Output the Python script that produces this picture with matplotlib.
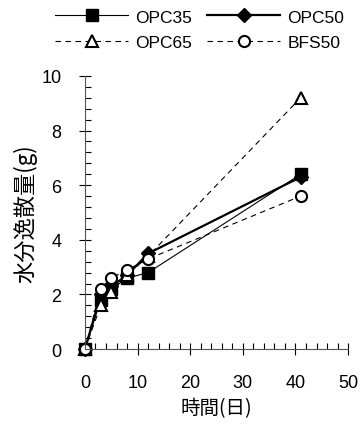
import matplotlib.pyplot as plt
from matplotlib.ticker import MultipleLocator

plt.rcParams['font.family'] = ['Liberation Sans', 'Noto Sans CJK JP']

# 経過日数
days = [0, 3, 5, 8, 12, 41]

opc35 = [0, 1.8, 2.2, 2.6, 2.8, 6.4]
opc50 = [0, 2.0, 2.3, 2.7, 3.5, 6.3]
opc65 = [0, 1.6, 2.1, 2.7, 3.4, 9.2]
bfs50 = [0, 2.2, 2.6, 2.9, 3.3, 5.6]

fig = plt.figure(figsize=(3.6, 4.27), dpi=100)
ax = fig.add_axes([0.236, 0.18, 0.731, 0.64])

l1, = ax.plot(days, opc35, '-', color='black', lw=0.8, marker='s', ms=8,
              mfc='black', label='OPC35')
l2, = ax.plot(days, opc50, '-', color='black', lw=1.6, marker='D', ms=7,
              mfc='black', label='OPC50')
l3, = ax.plot(days, opc65, '--', color='black', lw=0.8, dashes=(5, 4), marker='^',
              ms=9, mfc='white', mew=1.5, label='OPC65')
l4, = ax.plot(days, bfs50, '--', color='black', lw=0.8, dashes=(5, 4), marker='o',
              ms=8, mfc='white', mew=1.5, label='BFS50')

ax.set_xlim(0, 50)
ax.set_ylim(0, 10)
ax.xaxis.set_major_locator(MultipleLocator(10))
ax.xaxis.set_minor_locator(MultipleLocator(2))
ax.yaxis.set_major_locator(MultipleLocator(2))
ax.yaxis.set_minor_locator(MultipleLocator(0.4))
ax.tick_params(which='major', direction='inout', length=8, width=0.8,
               labelsize=13)
ax.tick_params(axis='x', which='major', pad=14)
ax.tick_params(axis='y', which='major', pad=13)
ax.tick_params(which='minor', direction='in', length=4, width=0.8)

ax.spines['top'].set_visible(False)
ax.spines['right'].set_visible(False)
ax.spines['left'].set_color('#555555')
ax.spines['bottom'].set_color('#555555')
for line in ax.lines:
    line.set_clip_on(False)

ax.set_xlabel('時間(日)', fontsize=14, family=['Noto Sans CJK JP'], labelpad=4)
ax.set_ylabel('水分逸散量(g)', fontsize=16, family=['Noto Sans CJK JP'], labelpad=3)

# 凡例は行ごとに並べる
fig.legend([l1, l3, l2, l4], ['OPC35', 'OPC65', 'OPC50', 'BFS50'],
           loc='upper right', bbox_to_anchor=(0.985, 1.0), ncol=2,
           frameon=False, fontsize=12.5, handlelength=4.2, columnspacing=0.9,
           handletextpad=0.4, labelspacing=0.6, borderaxespad=0.2)

fig.savefig('out.png', dpi=100)
